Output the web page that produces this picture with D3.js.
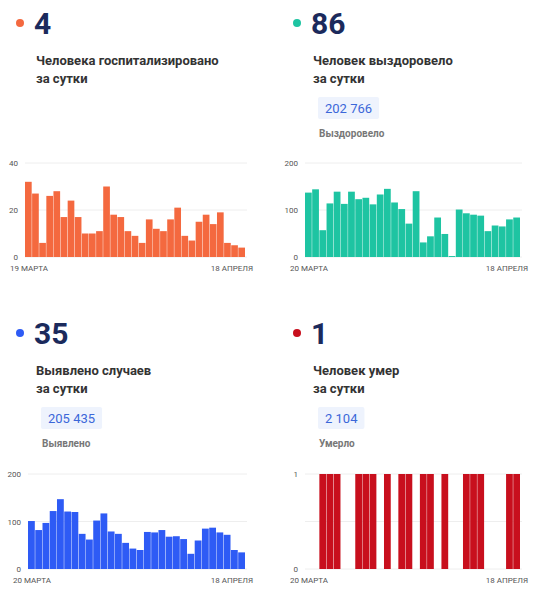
<!DOCTYPE html>
<html><head><meta charset="utf-8">
<script src="https://cdn.jsdelivr.net/npm/d3@7"></script>
<style>body{margin:0;background:#fff;font-family:Roboto,"Noto Sans",sans-serif;}</style>
</head><body><svg id="c" width="555" height="600"></svg>
<script>
var hospital = [32,27,6,26,28,17,24,17,10,10,11,30,18,17,11,9,6,16,12,11,16,21,9,7,15,18,14,19,6,5,4];
var recovered = [137,144,57,114,139,113,139,123,126,112,133,145,116,102,71,140,31,44,84,49,2,101,93,90,88,55,67,65,80,84];
var detected = [101,82,97,122,147,121,120,74,62,102,117,79,74,55,43,40,78,77,82,68,69,63,32,60,85,87,77,72,40,35];
var died = [0,0,1,1,1,0,0,1,1,1,0,1,0,1,1,0,1,1,0,1,0,0,1,1,1,0,0,0,1,1];

var panels = [
  {x:0, y:0, color:'#f4693f', big:'4', l1:'Человека госпитализировано', l2:'за сутки', total:null, tl:null,
   data:hospital, max:40, ticks:[0,20,40], start:'19 МАРТА', end:'18 АПРЕЛЯ', cy:[163,257], cx:[25,245]},
  {x:277, y:0, color:'#1ec4a2', big:'86', l1:'Человек выздоровело', l2:'за сутки', total:'202 766', tl:'Выздоровело',
   data:recovered, max:200, ticks:[0,100,200], start:'20 МАРТА', end:'18 АПРЕЛЯ', cy:[163,257], cx:[305,520]},
  {x:0, y:310, color:'#2e5bf5', big:'35', l1:'Выявлено случаев', l2:'за сутки', total:'205 435', tl:'Выявлено',
   data:detected, max:200, ticks:[0,100,200], start:'20 МАРТА', end:'18 АПРЕЛЯ', cy:[474,569], cx:[28,245]},
  {x:277, y:310, color:'#c80f1d', big:'1', l1:'Человек умер', l2:'за сутки', total:'2 104', tl:'Умерло',
   data:died, max:1, ticks:[0,1], start:'20 МАРТА', end:'18 АПРЕЛЯ', cy:[474,569], cx:[305,520]}
];

var svg = d3.select('#c');

panels.forEach(function(p){
  var g = svg.append('g');
  g.append('circle').attr('cx', p.x+20).attr('cy', p.y+23).attr('r', 4).attr('fill', p.color);
  g.append('text').attr('x', p.x+34).attr('y', p.y+34).attr('font-size', 30).attr('font-weight', 700)
    .attr('fill', '#1b2a5c').text(p.big);
  g.append('text').attr('x', p.x+36).attr('y', p.y+65).attr('font-size', 13).attr('font-weight', 700)
    .attr('fill', '#333').text(p.l1);
  g.append('text').attr('x', p.x+36).attr('y', p.y+83).attr('font-size', 13).attr('font-weight', 700)
    .attr('fill', '#333').text(p.l2);
  if (p.total) {
    var t = g.append('text').attr('x', p.x+48).attr('y', p.y+113).attr('font-size', 13).attr('fill', '#3b67d9').text(p.total);
    var w = t.node().getComputedTextLength();
    g.insert('rect', 'text').attr('x', p.x+41).attr('y', p.y+97).attr('width', w+14).attr('height', 22)
      .attr('fill', '#eef3fd').attr('rx', 2);
    g.append('text').attr('x', p.x+42).attr('y', p.y+137).attr('font-size', 10).attr('font-weight', 700)
      .attr('fill', '#777').text(p.tl);
  }

  var x = d3.scaleBand().domain(d3.range(p.data.length)).range(p.cx).paddingInner(0.06);
  var y = d3.scaleLinear().domain([0, p.max]).range([p.cy[1], p.cy[0]]);
  var grid = d3.range(0, p.max + 1e-9, p.max/2);

  g.selectAll('.grid').data(grid).enter().append('line')
    .attr('x1', p.cx[0]).attr('x2', p.cx[1]+2).attr('y1', function(d){ return y(d); }).attr('y2', function(d){ return y(d); })
    .attr('stroke', '#eee');
  g.selectAll('.tk').data(p.ticks).enter().append('text')
    .attr('x', p.cx[0]-7).attr('y', function(d){ return y(d)+3; }).attr('text-anchor', 'end')
    .attr('font-size', 8).attr('fill', '#555').text(function(d){ return d; });

  g.selectAll('.bar').data(p.data).enter().append('rect')
    .attr('x', function(d,i){ return x(i); }).attr('width', x.bandwidth())
    .attr('y', function(d){ return y(d); }).attr('height', function(d){ return y(0)-y(d); })
    .attr('fill', p.color);

  g.append('text').attr('x', p.cx[0]-15).attr('y', p.cy[1]+14).attr('font-size', 8).attr('fill', '#555').text(p.start);
  g.append('text').attr('x', p.cx[1]+8).attr('y', p.cy[1]+14).attr('text-anchor', 'end').attr('font-size', 8)
    .attr('fill', '#555').text(p.end);
});
</script></body></html>
